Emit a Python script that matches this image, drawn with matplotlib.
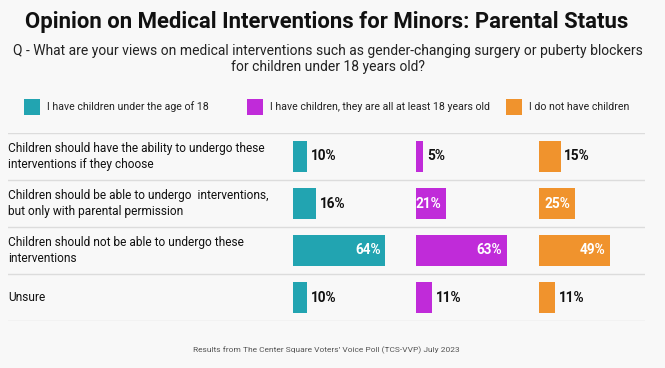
import matplotlib
matplotlib.use('Agg')
from matplotlib import pyplot as plt
from matplotlib.patches import Rectangle

plt.rcParams['font.family'] = ['Roboto', 'DejaVu Sans']

# data
answers = ['Children should have the ability to undergo these\ninterventions if they choose',
           'Children should be able to undergo  interventions,\nbut only with parental permission',
           'Children should not be able to undergo these\ninterventions',
           'Unsure']
groups = ['I have children under the age of 18',
          'I have children, they are all at least 18 years old',
          'I do not have children']
under18 = [10, 16, 64, 10]
over18 = [5, 21, 63, 11]
no_children = [15, 25, 49, 11]
series = [under18, over18, no_children]
colors = ['#22a4b1', '#c02bd9', '#f0932d']

W, H = 665, 368
bg = '#f8f8f8'
fig = plt.figure(figsize=(W / 100, H / 100), dpi=100, facecolor=bg)

def px(x0, y0, x1, y1):
    # pixel box (top-left origin) -> figure fraction
    return [x0 / W, 1 - y1 / H, (x1 - x0) / W, (y1 - y0) / H]

fig.text(326.5 / W, 1 - 22 / H, 'Opinion on Medical Interventions for Minors: Parental Status',
         ha='center', va='center', fontsize=15.9, fontweight='bold', color='#111111')
fig.text(327.5 / W, 1 - 59 / H, 'Q - What are your views on medical interventions such as gender-changing surgery or puberty blockers\nfor children under 18 years old?',
         ha='center', va='center', fontsize=10.0, color='#222222', linespacing=1.25)

# legend
leg_x = [24, 247, 506]
for gx, g, c in zip(leg_x, groups, colors):
    fig.patches.append(Rectangle((gx / W, 1 - 115 / H), 16 / W, 16 / H,
                                 transform=fig.transFigure, facecolor=c, edgecolor='none'))
    fig.text((gx + 23) / W, 1 - 107 / H, g, ha='left', va='center', fontsize=7.6, color='#222222')

# row labels and separators
ax = fig.add_axes(px(8, 133, 645, 321))
ax.set_xlim(0, 1)
ax.set_ylim(3.5, -0.5)
ax.axis('off')
for i in range(len(answers) + 1):
    ax.axhline(i - 0.5, color='#dcdcdc', lw=1)
for i, a in enumerate(answers):
    ax.text(0, i, a, ha='left', va='center', fontsize=8.6, color='#111111', linespacing=1.25)

# bars, one axes per group
scale = 1.44  # px per percent
col_x = [293, 416, 539]
for cx, vals, c in zip(col_x, series, colors):
    bx = fig.add_axes(px(cx, 133, cx + 110, 321))
    bx.set_xlim(0, 110 / scale)
    bx.set_ylim(3.5, -0.5)
    bx.axis('off')
    bx.barh(range(len(vals)), vals, height=0.68, color=c)
    for i, v in enumerate(vals):
        if v >= 20:
            bx.text(v - 3.2, i, f'{v}%', ha='right', va='center', fontsize=9.8,
                    fontweight='bold', color='white')
        else:
            bx.text(v + 2.6, i, f'{v}%', ha='left', va='center', fontsize=9.8,
                    fontweight='bold', color='#111111')

fig.text(326.5 / W, 1 - 350 / H, 'Results from The Center Square Voters\u2019 Voice Poll (TCS-VVP) July 2023',
         ha='center', va='center', fontsize=6.0, color='#555555')

fig.savefig('out.png', dpi=100, facecolor=bg)
